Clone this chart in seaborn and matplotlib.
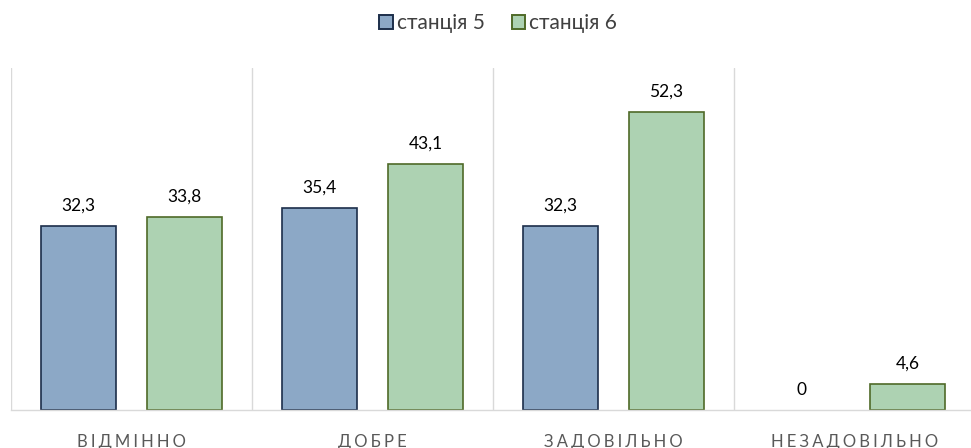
import numpy as np
import pandas as pd
import matplotlib.pyplot as plt
import seaborn as sns

categories = ["ВІДМІННО", "ДОБРЕ", "ЗАДОВІЛЬНО", "НЕЗАДОВІЛЬНО"]
series = ["станція 5", "станція 6"]
station5 = [32.3, 35.4, 32.3, 0]
station6 = [33.8, 43.1, 52.3, 4.6]

df = pd.DataFrame({
    "cat": categories * 2,
    "series": [series[0]] * 4 + [series[1]] * 4,
    "value": station5 + station6,
})

sns.set_style("white")
plt.rcParams["font.family"] = ["Lato", "DejaVu Sans"]

fills = ["#8CA8C6", "#ADD2B2"]
edges = ["#1C2E4A", "#4F6A28"]

fig = plt.figure(figsize=(9.71, 4.48), dpi=100)
ax = fig.add_axes([11 / 971, 38 / 448, 964 / 971, 342 / 448])

sns.barplot(data=df, x="cat", y="value", hue="series", palette=fills,
            saturation=1, width=0.88, gap=0.3, ax=ax, legend=False)

# bar edges and value labels
for i, cont in enumerate(ax.containers):
    for bar in cont:
        bar.set_edgecolor(edges[i])
        bar.set_linewidth(1.2 if bar.get_height() > 0 else 0)
    labels = [("%g" % v).replace(".", ",") for v in cont.datavalues]
    ax.bar_label(cont, labels=labels, padding=9, fontsize=12.5, color="#000000")

ax.set_ylim(0, 60)
ax.set_xlim(-0.5, 3.5)
ax.set_yticks([])
ax.set_ylabel("")
ax.set_xlabel("")
ax.set_xticks(range(4))
# spaced-out capitals like the original axis labels
ax.set_xticklabels(["\u2009\u200a".join(c) for c in categories], fontsize=12, color="#595959")
ax.tick_params(axis="x", length=0, pad=17)

ax.set_xticks(np.arange(-0.5, 4, 1), minor=True)
ax.grid(axis="x", which="minor", color="#D9D9D9", linewidth=1)
ax.grid(axis="x", which="major", visible=False)
ax.tick_params(axis="x", which="minor", length=0)

for s in ["top", "right", "left"]:
    ax.spines[s].set_visible(False)
ax.spines["bottom"].set_color("#D9D9D9")
ax.spines["bottom"].set_linewidth(1)

handles = [plt.Rectangle((0, 0), 1, 1, facecolor=fills[i], edgecolor=edges[i], linewidth=1.4)
           for i in range(2)]
fig.legend(handles, series, loc="upper center", bbox_to_anchor=(0.513, 1.012), ncol=2,
           frameon=False, fontsize=15, handlelength=0.63, handleheight=0.63,
           handletextpad=0.2, columnspacing=1.3, labelcolor="#404040")

fig.savefig("out.png", dpi=100)
